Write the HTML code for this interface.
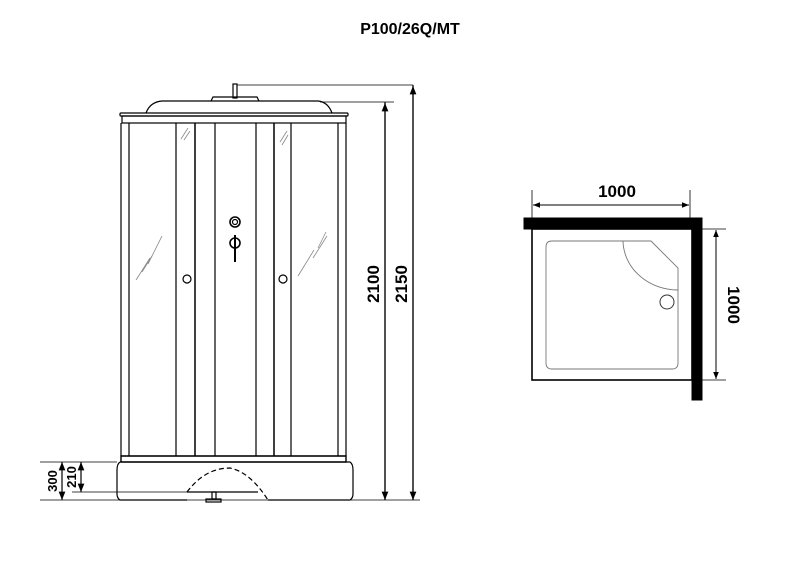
<!DOCTYPE html>
<html><head><style>body{margin:0;background:#fff}svg{display:block}</style></head><body>
<svg width="800" height="565" viewBox="0 0 800 565" xmlns="http://www.w3.org/2000/svg" font-family="Liberation Sans, sans-serif" font-weight="bold">
<defs><marker id="a" viewBox="0 0 10 10" refX="10" refY="5" markerWidth="7" markerHeight="7" orient="auto-start-reverse"><path d="M0,1 L10,5 L0,9 z" fill="#000"/></marker></defs>
<text x="410" y="34" font-size="16" text-anchor="middle">P100/26Q/MT</text>
<g stroke="#000" fill="none" stroke-width="1.2">
<rect x="233" y="84" width="4" height="14"/>
<path d="M211,101 L213,97 L257,97 L259,101"/>
<path d="M146,113 Q150,102 162,101 L318,101 Q328,102 332,113"/>
<rect x="120" y="113" width="228" height="3" rx="1"/>
<rect x="122" y="116" width="224" height="7"/>
<line x1="121" y1="123" x2="121" y2="456"/><line x1="129" y1="123" x2="129" y2="456"/>
<line x1="338" y1="123" x2="338" y2="456"/><line x1="346" y1="123" x2="346" y2="456"/>
<line x1="176" y1="123" x2="176" y2="456"/><line x1="195" y1="123" x2="195" y2="456" stroke-width="1.5"/>
<line x1="215" y1="123" x2="215" y2="456"/><line x1="256" y1="123" x2="256" y2="456"/>
<line x1="274" y1="123" x2="274" y2="456" stroke-width="1.5"/><line x1="291" y1="123" x2="291" y2="456"/>
<line x1="121" y1="456" x2="346" y2="456"/>
<rect x="121" y="456" width="225" height="6" stroke-width="1.4"/>
<path d="M120,462 L350,462 Q353,464 353,470 L353,494 Q353,498 350,500 L268,500 M187,500 L120,500 Q117,498 117,494 L117,470 Q117,464 120,462"/>
<path d="M187,492 Q205,468 230,468 Q250,472 268,500" stroke-dasharray="5,3"/>
<line x1="187" y1="492" x2="258" y2="492"/>
<rect x="212" y="492" width="4" height="7"/><rect x="206" y="499" width="15" height="3"/>
<circle cx="187" cy="279" r="4"/><circle cx="283" cy="279" r="4"/>
<circle cx="235" cy="222" r="5" stroke-width="1.6"/><circle cx="235" cy="222" r="2.5"/>
<circle cx="235" cy="243" r="5" stroke-width="1.6"/>
<line x1="235" y1="235" x2="235" y2="262" stroke-width="2"/>
<g stroke="#888" stroke-width="0.8">
<line x1="136" y1="280" x2="150" y2="258"/><line x1="142" y1="272" x2="152" y2="256"/><line x1="148" y1="264" x2="162" y2="236"/>
<line x1="298" y1="276" x2="314" y2="250"/><line x1="313" y1="258" x2="327" y2="236"/><line x1="318" y1="248" x2="326" y2="232"/>
<line x1="181" y1="139" x2="188" y2="128"/><line x1="184" y1="140" x2="190" y2="131"/>
<line x1="280" y1="142" x2="287" y2="131"/><line x1="282" y1="145" x2="288" y2="135"/>
</g>
<line x1="237" y1="85" x2="413" y2="85" stroke-width="0.8"/>
<line x1="320" y1="102" x2="394" y2="102" stroke-width="0.8"/>
<line x1="385" y1="102" x2="385" y2="500" marker-end="url(#a)"/>
<line x1="385" y1="500" x2="385" y2="103" marker-end="url(#a)"/>
<line x1="413" y1="85" x2="413" y2="500" marker-end="url(#a)"/>
<line x1="413" y1="500" x2="413" y2="86" marker-end="url(#a)"/>
<line x1="40" y1="462" x2="117" y2="462" stroke-width="0.8"/>
<line x1="72" y1="492" x2="187" y2="492" stroke-width="0.8"/>
<line x1="40" y1="500" x2="420" y2="500" stroke-width="0.8"/>
<line x1="62" y1="481" x2="62" y2="462" marker-end="url(#a)"/><line x1="62" y1="481" x2="62" y2="500" marker-end="url(#a)"/>
<line x1="81" y1="477" x2="81" y2="462" marker-end="url(#a)"/><line x1="81" y1="477" x2="81" y2="492" marker-end="url(#a)"/>
</g>
<g font-size="17">
<text transform="translate(384,284) rotate(-90)" text-anchor="middle" dy="-5">2100</text>
<text transform="translate(412,284) rotate(-90)" text-anchor="middle" dy="-5">2150</text>
</g>
<g font-size="13">
<text transform="translate(59,481) rotate(-90)" text-anchor="middle" dy="-2">300</text>
<text transform="translate(78,477) rotate(-90)" text-anchor="middle" dy="-2">210</text>
</g>
<g stroke="#000" fill="none">
<rect x="532" y="229" width="160" height="151" stroke-width="1.6"/>
<rect x="524" y="218" width="178" height="11" fill="#000"/>
<rect x="692" y="218" width="10" height="182" fill="#000"/>
<path d="M552,241 L651,241 L678,268 L678,363 Q678,369 672,369 L552,369 Q546,369 546,363 L546,247 Q546,241 552,241" stroke="#777" stroke-width="0.9"/>
<path d="M623,241 A55,50 0 0 0 678,290" stroke="#777" stroke-width="0.9"/>
<circle cx="667" cy="302" r="7" stroke="#333"/>
<line x1="532" y1="190" x2="532" y2="229" stroke-width="0.8"/><line x1="690" y1="190" x2="690" y2="229" stroke-width="0.8"/>
<line x1="611" y1="205" x2="533" y2="205" marker-end="url(#a)"/><line x1="611" y1="205" x2="689" y2="205" marker-end="url(#a)"/>
<line x1="702" y1="229" x2="726" y2="229" stroke-width="0.8"/><line x1="702" y1="380" x2="726" y2="380" stroke-width="0.8"/>
<line x1="716" y1="305" x2="716" y2="230" marker-end="url(#a)"/><line x1="716" y1="305" x2="716" y2="379" marker-end="url(#a)"/>
</g>
<text x="617" y="197" font-size="17" text-anchor="middle">1000</text>
<text transform="translate(728,305) rotate(90)" font-size="17" text-anchor="middle">1000</text>
</svg>
</body></html>
